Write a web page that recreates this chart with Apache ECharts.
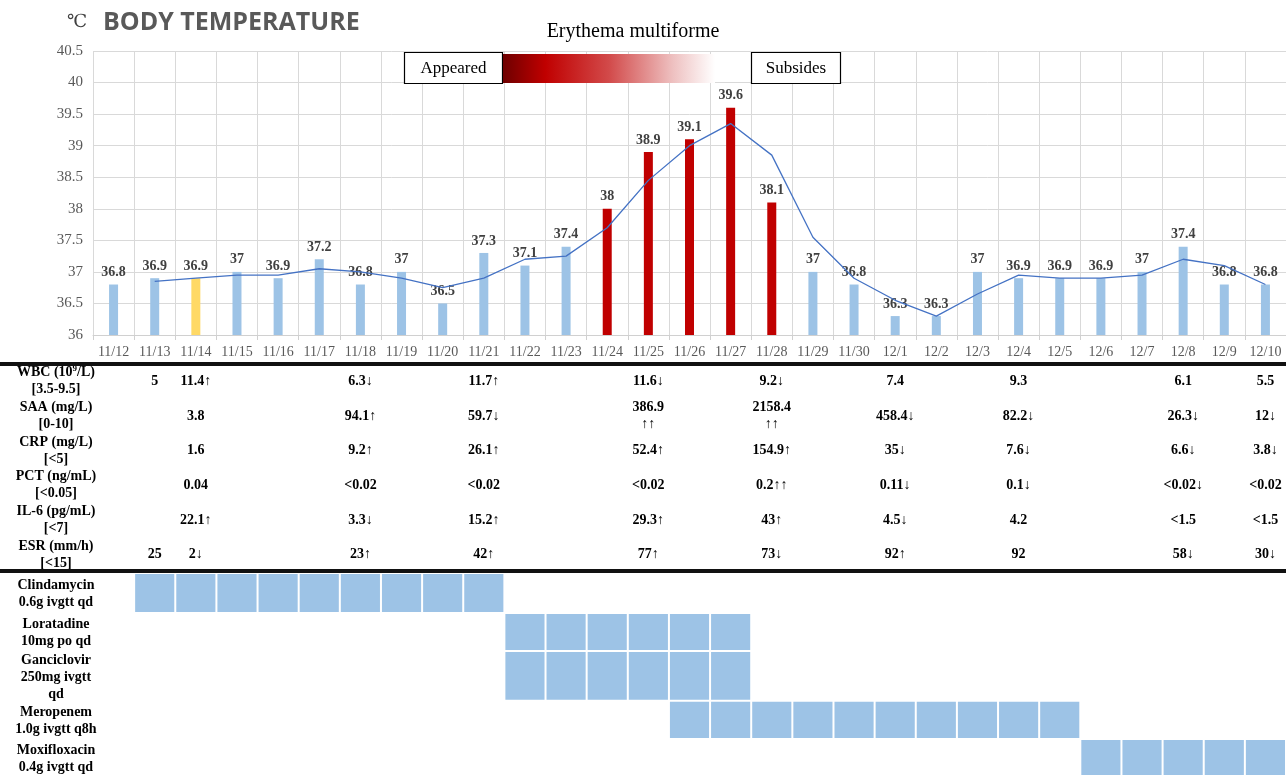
<!DOCTYPE html>
<html><head><meta charset="utf-8">
<script src="https://cdn.jsdelivr.net/npm/echarts@6/dist/echarts.min.js"></script>
<style>html,body{margin:0;padding:0;background:#fff}#c{width:1286px;height:776px}</style>
</head><body><div id="c"></div>
<script>
// ---------------- DATA ----------------
const days = ['11/12','11/13','11/14','11/15','11/16','11/17','11/18','11/19','11/20','11/21','11/22','11/23','11/24','11/25','11/26','11/27','11/28','11/29','11/30','12/1','12/2','12/3','12/4','12/5','12/6','12/7','12/8','12/9','12/10'];
const temps = [36.8,36.9,36.9,37,36.9,37.2,36.8,37,36.5,37.3,37.1,37.4,38,38.9,39.1,39.6,38.1,37,36.8,36.3,36.3,37,36.9,36.9,36.9,37,37.4,36.8,36.8];
const trend = [null,36.85,36.9,36.95,36.95,37.05,37.0,36.9,36.75,36.9,37.2,37.25,37.7,38.45,39.0,39.35,38.85,37.55,36.9,36.55,36.3,36.65,36.95,36.9,36.9,36.95,37.2,37.1,36.8];
const yellowDays = ['11/14'];
const erythemaDays = ['11/24','11/25','11/26','11/27','11/28'];
const yTicks = [36,36.5,37,37.5,38,38.5,39,39.5,40,40.5];

const labRows = ['WBC (10^9/L)\n[3.5-9.5]','SAA (mg/L)\n[0-10]','CRP (mg/L)\n[<5]','PCT (ng/mL)\n[<0.05]','IL-6 (pg/mL)\n[<7]','ESR (mm/h)\n[<15]'];
// [day, value, H=abnormal(red)/N=normal, arrow]
const wbcVals = [['11/13','5','N',''],['11/14','11.4','H','↑'],['11/18','6.3','N','↓'],['11/21','11.7','H','↑'],['11/25','11.6','H','↓'],['11/28','9.2','N','↓'],['12/1','7.4','N',''],['12/4','9.3','N',''],['12/8','6.1','N',''],['12/10','5.5','N','']];
const saaVals = [['11/14','3.8','N',''],['11/18','94.1','H','↑'],['11/21','59.7','H','↓'],['11/25','386.9','H','\n↑↑'],['11/28','2158.4','H','\n↑↑'],['12/1','458.4','H','↓'],['12/4','82.2','H','↓'],['12/8','26.3','H','↓'],['12/10','12','H','↓']];
const crpVals = [['11/14','1.6','N',''],['11/18','9.2','H','↑'],['11/21','26.1','H','↑'],['11/25','52.4','H','↑'],['11/28','154.9','H','↑'],['12/1','35','H','↓'],['12/4','7.6','H','↓'],['12/8','6.6','H','↓'],['12/10','3.8','N','↓']];
const pctVals = [['11/14','0.04','N',''],['11/18','<0.02','N',''],['11/21','<0.02','N',''],['11/25','<0.02','N',''],['11/28','0.2','H','↑↑'],['12/1','0.11','H','↓'],['12/4','0.1','H','↓'],['12/8','<0.02','N','↓'],['12/10','<0.02','N','']];
const il6Vals = [['11/14','22.1','H','↑'],['11/18','3.3','N','↓'],['11/21','15.2','H','↑'],['11/25','29.3','H','↑'],['11/28','43','H','↑'],['12/1','4.5','N','↓'],['12/4','4.2','N',''],['12/8','<1.5','N',''],['12/10','<1.5','N','']];
const esrVals = [['11/13','25','H',''],['11/14','2','N','↓'],['11/18','23','H','↑'],['11/21','42','H','↑'],['11/25','77','H','↑'],['11/28','73','H','↓'],['12/1','92','H','↑'],['12/4','92','H',''],['12/8','58','H','↓'],['12/10','30','H','↓']];

const drugs = ['Clindamycin\n0.6g ivgtt qd','Loratadine\n10mg po qd','Ganciclovir\n250mg ivgtt\nqd','Meropenem\n1.0g ivgtt q8h','Moxifloxacin\n0.4g ivgtt qd'];
const drugStart = ['11/13','11/22','11/22','11/26','12/6'];
const drugEnd   = ['11/21','11/27','11/27','12/5','12/10'];

// ---------------- LAYOUT / STYLE ----------------
const SERIF = '"Liberation Serif","Times New Roman","DejaVu Serif",serif';
const RED = '#c00000', BLUE_ARROW = '#2f8fd8', BAR_BLUE = '#9dc3e6', BAR_YEL = '#ffd966', CELL = '#9dc3e6';
const drugRowHeights = [41, 39, 51, 39, 38];
const drugEdges = [0];
drugRowHeights.forEach(h => drugEdges.push(drugEdges[drugEdges.length - 1] + h));

const barData = temps.map((v, i) => ({
  value: v,
  itemStyle: { color: erythemaDays.includes(days[i]) ? RED : (yellowDays.includes(days[i]) ? BAR_YEL : BAR_BLUE) }
}));

const labSets = [wbcVals, saaVals, crpVals, pctVals, il6Vals, esrVals];
const labItems = [];
labSets.forEach((set, r) => set.forEach(v => labItems.push({ x: days.indexOf(v[0]), y: r, text: v[1], flag: v[2], arrow: v[3] })));

const cellItems = [];
drugs.forEach((d, r) => {
  const s = days.indexOf(drugStart[r]), e = days.indexOf(drugEnd[r]);
  for (let k = s; k <= e; k++) cellItems.push({ x: k, r: r });
});

const labRich = {
  h: { fontFamily: SERIF, fontWeight: 'bold', fontSize: 14, color: RED, lineHeight: 17 },
  n: { fontFamily: SERIF, fontWeight: 'bold', fontSize: 14, color: '#000', lineHeight: 17 },
  u: { fontFamily: SERIF, fontSize: 14, color: RED, lineHeight: 17 },
  d: { fontFamily: SERIF, fontSize: 14, color: BLUE_ARROW, lineHeight: 17 }
};
function labText(it) {
  let s = '{' + (it.flag === 'H' ? 'h' : 'n') + '|' + it.text + '}';
  if (it.arrow) {
    let a = it.arrow, br = '';
    if (a[0] === '\n') { br = '\n'; a = a.slice(1); }
    s += br + '{' + (a[0] === '↑' ? 'u' : 'd') + '|' + a + '}';
  }
  return s;
}
function rowLabel(v) {
  return v.split('\n').map(line => {
    if (line.indexOf('10^9') >= 0) {
      const p = line.split('10^9');
      return '{t|' + p[0] + '10}{s|9}{t|' + p[1] + '}';
    }
    return '{t|' + line + '}';
  }).join('\n');
}

const chart = echarts.init(document.getElementById('c'), null, { renderer: 'canvas' });
const option = {
  animation: false,
  backgroundColor: '#fff',
  grid: [
    { left: 93, right: 0, top: 51, bottom: 441 },
    { left: 93, right: 0, top: 364, height: 208 },
    { left: 93, right: 0, top: 573, height: 208 }
  ],
  xAxis: [
    { type: 'category', gridIndex: 0, data: days, boundaryGap: true,
      axisLine: { show: true, lineStyle: { color: '#d0d0d0', width: 1 } },
      axisTick: { show: true, length: 5, lineStyle: { color: '#d0d0d0' } },
      axisLabel: { interval: 0, fontFamily: SERIF, fontSize: 14, color: '#595959', margin: 10 },
      splitLine: { show: true, lineStyle: { color: '#d9d9d9', width: 1 } } },
    { type: 'category', gridIndex: 1, data: days, boundaryGap: true, show: false },
    { type: 'category', gridIndex: 2, data: days, boundaryGap: true, show: false }
  ],
  yAxis: [
    { type: 'value', gridIndex: 0, min: yTicks[0], max: yTicks[yTicks.length - 1], interval: 0.5,
      axisLine: { show: false }, axisTick: { show: false },
      axisLabel: { fontFamily: SERIF, fontSize: 15, color: '#595959', margin: 10 },
      splitLine: { show: true, lineStyle: { color: '#d9d9d9', width: 1 } } },
    { type: 'category', gridIndex: 1, data: labRows, inverse: true,
      axisLine: { show: false }, axisTick: { show: false }, splitLine: { show: false },
      axisLabel: { align: 'center', margin: 37, formatter: rowLabel,
        rich: {
          t: { fontFamily: SERIF, fontWeight: 'bold', fontSize: 14, color: '#000', lineHeight: 17 },
          s: { fontFamily: SERIF, fontWeight: 'bold', fontSize: 9, color: '#000', lineHeight: 9, verticalAlign: 'top' }
        } } },
    { type: 'value', gridIndex: 2, min: 0, max: drugEdges[drugEdges.length - 1], inverse: true, show: false,
      splitLine: { show: false } }
  ],
  series: [
    { type: 'bar', xAxisIndex: 0, yAxisIndex: 0, data: barData, barWidth: 9, z: 2,
      label: { show: true, position: 'top', distance: 5, fontFamily: SERIF, fontWeight: 'bold', fontSize: 14, color: '#404040' } },
    { type: 'line', xAxisIndex: 0, yAxisIndex: 0, data: trend, symbol: 'none', z: 3,
      lineStyle: { color: '#4472c4', width: 1.3 }, itemStyle: { color: '#4472c4' } },
    { type: 'custom', xAxisIndex: 1, yAxisIndex: 1, data: labItems.map(it => [it.x, it.y]), silent: true,
      encode: { x: 0, y: 1 },
      renderItem: function (params, api) {
        const it = labItems[params.dataIndex];
        const p = api.coord([it.x, it.y]);
        return { type: 'text', x: p[0], y: p[1],
          style: { text: labText(it), rich: labRich, align: 'center', verticalAlign: 'middle',
                   font: 'bold 14px ' + SERIF } };
      } },
    { type: 'custom', xAxisIndex: 2, yAxisIndex: 2, data: cellItems.map(c => [c.x, (drugEdges[c.r] + drugEdges[c.r + 1]) / 2]), silent: true,
      encode: { x: 0, y: 1 },
      renderItem: function (params, api) {
        const c = cellItems[params.dataIndex];
        const top = api.coord([c.x, drugEdges[c.r]]);
        const bot = api.coord([c.x, drugEdges[c.r + 1]]);
        const w = api.size([1, 0])[0];
        return { type: 'rect',
          shape: { x: top[0] - w / 2 + 1, y: top[1] + 1, width: w - 2, height: bot[1] - top[1] - 2 },
          style: { fill: CELL } };
      } },
    { type: 'custom', xAxisIndex: 2, yAxisIndex: 2, data: drugs.map((d, r) => [0, (drugEdges[r] + drugEdges[r + 1]) / 2]), silent: true,
      encode: { x: 0, y: 1 },
      renderItem: function (params, api) {
        const r = params.dataIndex;
        const p = api.coord([0, (drugEdges[r] + drugEdges[r + 1]) / 2]);
        return { type: 'text', x: params.coordSys.x - 37, y: p[1] + 1,
          style: { text: drugs[r], align: 'center', verticalAlign: 'middle', fill: '#000',
                   font: 'bold 14px ' + SERIF, lineHeight: 17 } };
      } }
  ],
  graphic: [
    { type: 'text', x: 67, y: 22, style: { text: '℃', font: '18px ' + SERIF, fill: '#404040', verticalAlign: 'middle' } },
    { type: 'text', x: 103, y: 23, style: { text: 'BODY TEMPERATURE', font: 'bold 25px "Open Sans"', fill: '#595959', verticalAlign: 'middle' } },
    { type: 'text', x: 633, y: 32, style: { text: 'Erythema multiforme', font: '20px ' + SERIF, fill: '#000', align: 'center', verticalAlign: 'middle' } },
    { type: 'rect', shape: { x: 404.5, y: 52.5, width: 98, height: 31 }, style: { fill: '#fff', stroke: '#000', lineWidth: 1.2 }, z: 100 },
    { type: 'text', x: 453.5, y: 69, style: { text: 'Appeared', font: '17px ' + SERIF, fill: '#000', align: 'center', verticalAlign: 'middle' }, z: 101 },
    { type: 'rect', shape: { x: 503, y: 54, width: 212, height: 29 }, z: 100,
      style: { fill: new echarts.graphic.LinearGradient(0, 0, 1, 0, [
        { offset: 0, color: '#6e0000' }, { offset: 0.2, color: '#c00000' },
        { offset: 0.5, color: '#d24a4a' }, { offset: 0.8, color: '#eec0c0' }, { offset: 1, color: '#ffffff' }]) } },
    { type: 'rect', shape: { x: 751.5, y: 52.5, width: 89, height: 31 }, style: { fill: '#fff', stroke: '#000', lineWidth: 1.2 }, z: 100 },
    { type: 'text', x: 796, y: 69, style: { text: 'Subsides', font: '17px ' + SERIF, fill: '#000', align: 'center', verticalAlign: 'middle' }, z: 101 },
    { type: 'rect', shape: { x: 0, y: 362, width: 1286, height: 4 }, style: { fill: '#111' }, z: 100 },
    { type: 'rect', shape: { x: 0, y: 569, width: 1286, height: 4 }, style: { fill: '#111' }, z: 100 }
  ]
};
chart.setOption(option);
</script>
</body></html>
